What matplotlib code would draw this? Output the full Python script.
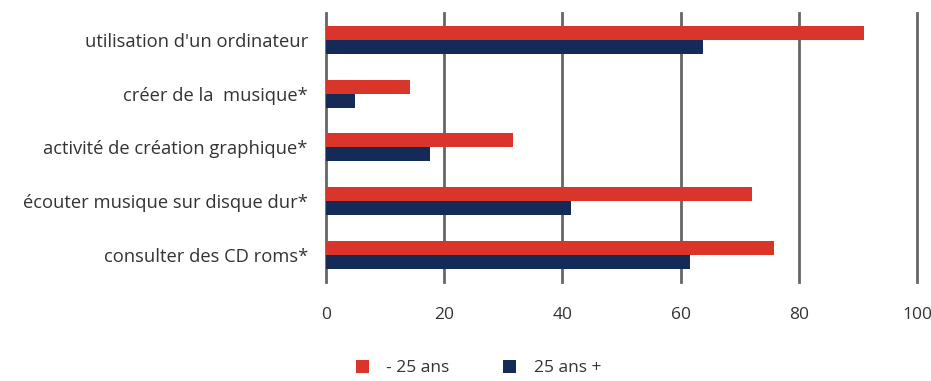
import numpy as np
from matplotlib import pyplot as plt

plt.rcParams['font.family'] = ['Open Sans', 'DejaVu Sans']

categories = ["utilisation d'un ordinateur", "créer de la  musique*",
              "activité de création graphique*", "écouter musique sur disque dur*",
              "consulter des CD roms*"]
moins_25 = [91, 14.3, 31.7, 72, 75.8]
plus_25 = [63.8, 4.9, 17.6, 41.4, 61.6]
series_names = ["- 25 ans", "25 ans +"]
xticks = [0, 20, 40, 60, 80, 100]

red = '#d9352a'
navy = '#142b58'

fig = plt.figure(figsize=(9.31, 3.81), dpi=100)
ax = fig.add_axes([0.350, 0.260, 0.635, 0.706])

y = np.arange(len(categories))
h = 0.26
ax.barh(y - h / 2, moins_25, height=h, color=red, label=series_names[0], zorder=3)
ax.barh(y + h / 2, plus_25, height=h, color=navy, label=series_names[1], zorder=3)

ax.set_xlim(0, 100)
ax.set_ylim(len(categories) - 0.5, -0.5)
ax.set_xticks(xticks)
ax.set_yticks(y)
ax.set_yticklabels(categories)
ax.grid(axis='x', color='#666666', linewidth=2, zorder=1)
for gl in ax.get_xgridlines():
    gl.set_clip_on(False)
for s in ax.spines.values():
    s.set_visible(False)
ax.tick_params(axis='both', length=0, labelcolor='#333333')
ax.tick_params(axis='y', pad=13, labelsize=13.2)
ax.tick_params(axis='x', pad=18, labelsize=12.5)

fig.legend(loc='center', bbox_to_anchor=(0.514, 0.034), ncol=2, frameon=False,
           fontsize=12.5, handlelength=0.75, handleheight=0.75, handletextpad=1.0,
           columnspacing=3.1, labelcolor='#333333')

fig.savefig('out.png', dpi=100)
